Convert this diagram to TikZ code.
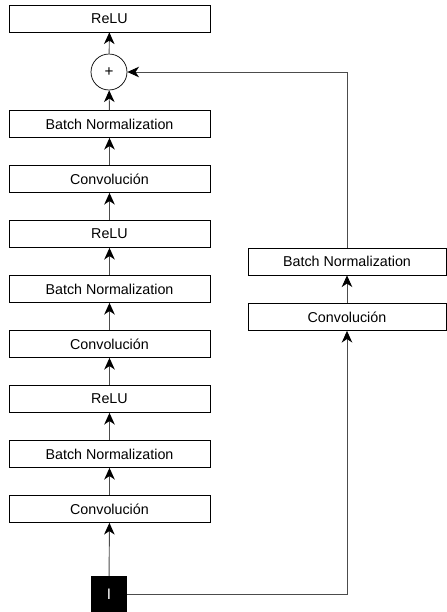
\documentclass[tikz,border=0pt]{standalone}
\usepackage{fontspec}
\setmainfont{Liberation Sans}
\usetikzlibrary{arrows.meta}

\begin{document}
\begin{tikzpicture}[x=0.3mm,y=-0.3mm]
%%%%%%%%%%%%%%%%%%%%%%%%%%%%%%%%%%%%%%%%%%%%%%%%%%%%%%%%
% STYLE
\tikzstyle{layer}=[rectangle,draw,line width=0.6pt,minimum width=6.03cm,minimum height=0.81cm,inner sep=0pt,font=\fontsize{12.2}{14}\selectfont]
\tikzstyle{slayer}=[layer,minimum width=5.94cm]
\tikzstyle{add}=[circle,draw,line width=0.6pt,minimum size=1.08cm,inner sep=0pt,font=\fontsize{13}{14}\selectfont]
\tikzstyle{inp}=[rectangle,fill=black,minimum size=1.08cm,inner sep=0pt,text=white,font=\fontsize{13}{14}\selectfont]

\tikzset{link/.style={-{Stealth[length=10pt,width=9pt,inset=3pt,black]},draw=black!70,line width=0.8pt}}

\useasboundingbox (0,0) rectangle (447,612);
%%%%%%%%%%%%%%%%%%%%%%%%%%%%%%%%%%%%%%%%%%%%%%%%%%%%%%%%
% NODES
\node[inp] (I) at (109,594) {I};

\node[layer] (C1) at (109.5,509) {Convolución};
\node[layer] (B1) at (109.5,454) {Batch Normalization};
\node[layer] (R1) at (109.5,399) {ReLU};
\node[layer] (C2) at (109.5,344) {Convolución};
\node[layer] (B2) at (109.5,289) {Batch Normalization};
\node[layer] (R2) at (109.5,234) {ReLU};
\node[layer] (C3) at (109.5,179) {Convolución};
\node[layer] (B3) at (109.5,124) {Batch Normalization};
\node[add] (sum) at (109,72) {+};
\node[layer] (out) at (109.5,18.5) {ReLU};

\node[slayer] (SC) at (347,317) {Convolución};
\node[slayer] (SB) at (347,261.5) {Batch Normalization};

%%%%%%%%%%%%%%%%%%%%%%%%%%%%%%%%%%%%%%%%%%%%%%%%%%%%%%%%
% LINKS
\draw[link] (I) -- (C1);
\draw[link] (C1) -- (B1);
\draw[link] (B1) -- (R1);
\draw[link] (R1) -- (C2);
\draw[link] (C2) -- (B2);
\draw[link] (B2) -- (R2);
\draw[link] (R2) -- (C3);
\draw[link] (C3) -- (B3);
\draw[link] (B3) -- (sum);
\draw[link] (sum) -- (out);

\draw[link] (I.east) -| (SC.south);
\draw[link] (SC) -- (SB);
\draw[link] (SB.north) |- (sum.east);
\end{tikzpicture}
\end{document}
